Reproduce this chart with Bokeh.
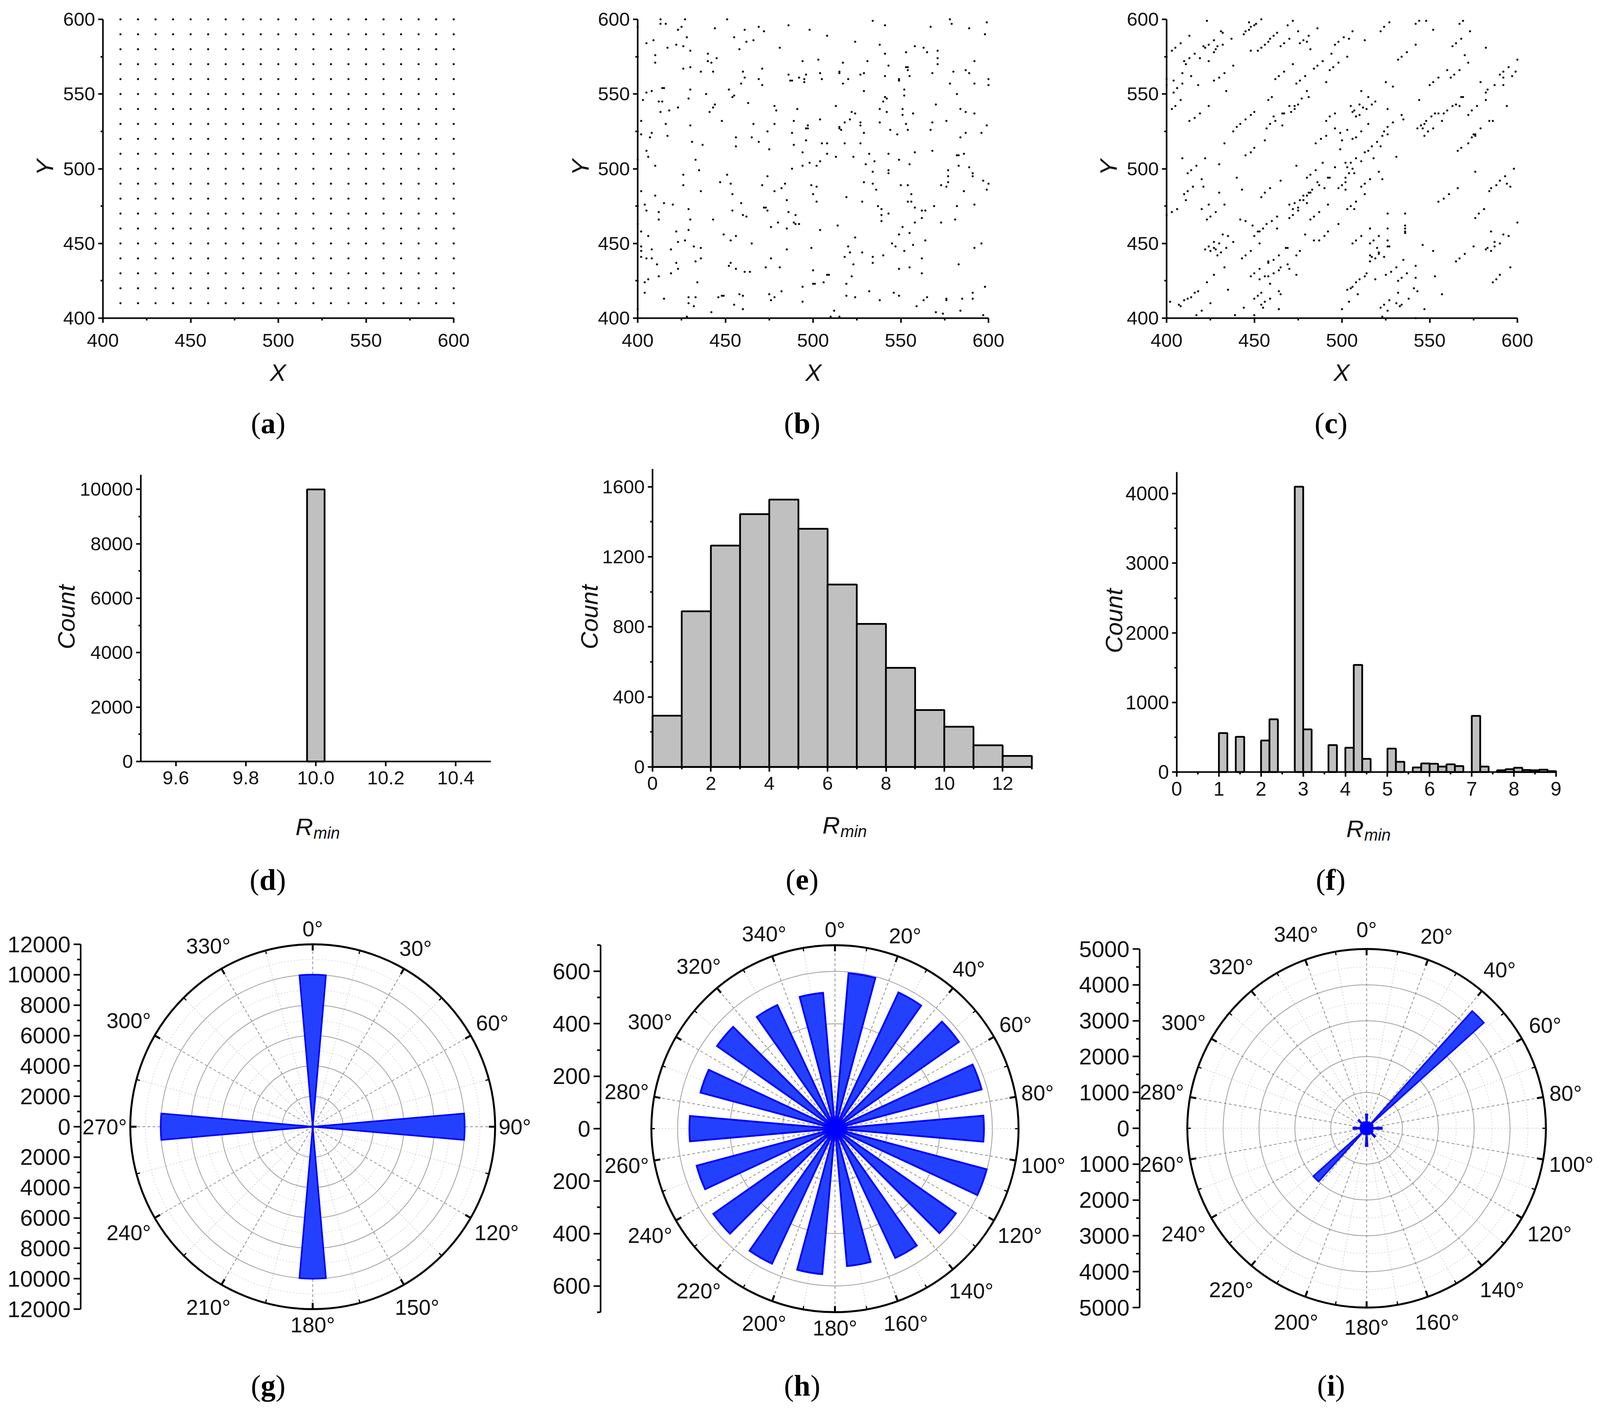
from math import sin, cos, radians

from bokeh.core.properties import value
from bokeh.embed import file_html
from bokeh.layouts import column, row
from bokeh.models import FixedTicker, NumeralTickFormatter, Range1d
from bokeh.plotting import figure
from bokeh.resources import INLINE

# scatter panels
grid_x = [410, 420, 430, 440, 450, 460, 470, 480, 490, 500, 510, 520, 530, 540, 550, 560, 570, 580, 590, 600]
grid_y = [410, 420, 430, 440, 450, 460, 470, 480, 490, 500, 510, 520, 530, 540, 550, 560, 570, 580, 590, 600]

b_points = [
    (413,600),(427,600),(451,600),(534,599),(578,600),(579,597),(599,598),(589,594),(400,595),(413,597),(416,597),
    (425,595),(423,593),(444,594),(461,593),(469,595),(472,592),(486,596),(498,593),(541,596),(567,595),(598,590),
    (508,589),(428,588),(455,588),(462,585),(466,586),(524,585),(405,584),(409,586),(422,583),(426,582),(417,581),
    (481,581),(458,580),(538,583),(558,582),(563,581),(565,578),(571,579),(553,578),(541,577),(430,579),(440,577),
    (410,576),(445,574),(400,575),(571,574),(503,573),(571,570),(531,572),(494,572),(517,571),(410,571),(440,572),
    (442,571),(543,569),(592,572),(430,568),(426,567),(471,567),(554,568),(553,568),(436,565),(443,565),(460,565),
    (554,566),(568,564),(515,565),(515,564),(580,565),(587,566),(589,564),(504,564),(486,563),(496,563),(529,564),
    (527,563),(541,562),(555,562),(461,561),(469,560),(487,559),(488,559),(492,561),(495,560),(495,558),(505,560),
    (520,560),(549,559),(549,560),(600,560),(459,557),(471,556),(517,557),(578,557),(592,557),(600,556),(414,554),
    (415,554),(430,553),(452,553),(408,552),(529,552),(552,553),(582,550),(405,551),(403,546),(439,550),(455,549),
    (454,548),(552,549),(429,547),(541,548),(542,547),(412,545),(414,545),(463,544),(540,545),(570,543),(513,542),
    (444,543),(443,541),(423,541),(418,539),(478,542),(479,539),(491,540),(538,540),(584,540),(551,540),(551,536),
    (441,538),(413,538),(522,538),(524,537),(542,538),(587,538),(557,537),(592,537),(448,532),(521,533),(504,533),
    (538,531),(489,532),(518,531),(402,532),(497,529),(497,527),(478,530),(466,530),(416,530),(527,531),(527,529),
    (568,531),(576,532),(553,530),(515,528),(515,527),(516,526),(430,529),(496,527),(599,529),(400,525),(408,524),
    (402,523),(474,525),(488,524),(529,524),(544,526),(554,526),(567,526),(596,524),(587,524),(584,521),(417,522),
    (407,521),(456,521),(465,521),(548,523),(496,519),(469,518),(431,518),(437,516),(489,516),(505,517),(508,517),
    (518,517),(527,517),(456,515),(475,513),(568,512),(494,511),(532,510),(405,512),(543,510),(558,511),(406,508),
    (433,506),(400,506),(508,510),(513,508),(523,508),(549,506),(498,504),(504,505),(535,505),(583,509),(586,510),
    (582,509),(502,502),(530,503),(555,503),(583,502),(410,502),(435,499),(488,500),(494,502),(589,501),(543,499),
    (577,499),(534,498),(543,497),(591,495),(591,497),(577,495),(426,496),(451,496),(474,495),(597,492),(447,491),
    (453,490),(484,490),(499,489),(502,488),(529,491),(534,490),(550,489),(554,489),(577,491),(573,489),(576,488),
    (600,490),(426,489),(471,489),(482,487),(536,486),(599,486),(402,485),(478,485),(436,485),(500,483),(556,483),
    (586,485),(410,482),(454,483),(519,481),(528,478),(502,478),(485,479),(554,478),(556,478),(415,477),(420,476),
    (459,477),(404,476),(473,474),(472,474),(558,474),(569,475),(582,475),(592,476),(537,475),(400,475),(429,473),
    (405,472),(412,471),(454,472),(474,472),(539,473),(564,472),(562,472),(486,471),(543,470),(460,469),(462,468),
    (490,469),(539,469),(562,467),(443,466),(430,466),(412,466),(539,465),(581,466),(558,464),(573,464),(480,464),
    (489,464),(490,463),(492,463),(400,463),(476,461),(485,460),(514,462),(504,459),(429,459),(551,461),(402,458),
    (422,458),(549,456),(555,457),(449,456),(456,455),(406,455),(524,454),(564,452),(453,452),(427,452),(432,448),
    (436,447),(423,451),(465,450),(545,450),(547,448),(520,448),(557,449),(592,447),(596,450),(402,448),(408,446),
    (419,446),(485,446),(499,447),(521,444),(528,444),(552,445),(402,445),(402,441),(405,440),(408,440),(518,441),
    (534,441),(540,442),(562,440),(436,440),(433,438),(476,440),(411,436),(422,437),(453,437),(452,435),(456,433),
    (473,434),(481,434),(583,436),(523,436),(534,437),(555,434),(549,433),(423,433),(461,431),(464,431),(500,432),
    (419,430),(562,430),(412,428),(522,428),(508,429),(509,429),(406,426),(400,425),(500,423),(501,423),(506,424),
    (519,423),(404,424),(404,417),(494,421),(434,424),(532,418),(546,417),(549,415),(598,421),(591,417),(524,414),
    (519,415),(565,414),(585,413),(591,413),(576,413),(576,412),(429,414),(433,414),(448,415),(446,414),(449,415),
    (458,416),(460,415),(475,416),(476,412),(478,414),(482,418),(415,413),(538,412),(563,412),(494,411),(429,410),
    (432,408),(455,409),(460,406),(559,408),(400,406),(570,404),(574,403),(584,405),(442,404),(512,405),(597,402),
    (428,401),(510,401),(515,401),
]

c_points = [
    (423,599),(444,590),(445,592),(447,593),(448,595),(450,596),(451,597),(454,600),(447,598),(472,599),(469,596),
    (431,592),(432,591),(413,589),(437,587),(475,592),(481,589),(486,594),(478,586),(476,584),(480,585),(482,580),
    (463,591),(461,589),(459,587),(458,585),(456,583),(454,581),(452,579),(448,579),(470,587),(467,584),(465,582),
    (506,592),(501,588),(504,587),(498,585),(496,583),(494,577),(489,572),(486,569),(484,567),(503,575),(498,571),
    (495,568),(493,566),(491,558),(522,592),(524,595),(527,598),(542,597),(544,599),(548,599),(552,593),(542,583),
    (537,578),(534,575),(532,573),(513,586),(567,597),(569,599),(573,592),(568,587),(565,584),(563,582),(582,581),
    (570,576),(572,571),(600,573),(595,568),(590,563),(592,565),(592,561),(599,565),(597,562),(592,556),(587,556),
    (583,553),(582,551),(582,546),(579,558),(594,542),(560,566),(564,563),(567,566),(562,561),(555,561),(552,558),
    (550,556),(525,558),(529,555),(511,552),(515,548),(519,545),(517,543),(514,540),(512,541),(505,542),(510,543),
    (507,539),(506,538),(508,535),(510,536),(515,530),(526,540),(529,531),(526,528),(524,525),(523,522),(526,523),
    (496,537),(493,535),(491,532),(496,527),(499,524),(503,526),(506,520),(508,521),(511,525),(500,519),(491,522),
    (488,520),(485,517),(499,513),(520,518),(517,515),(515,512),(513,511),(522,515),(531,508),(534,536),(535,533),
    (544,546),(568,548),(563,542),(565,543),(569,548),(567,542),(560,539),(558,537),(555,537),(553,537),(551,535),
    (548,532),(547,530),(545,529),(543,527),(546,527),(549,525),(547,522),(552,527),(557,532),(577,542),(574,539),
    (572,536),(579,527),(576,523),(575,523),(576,522),(574,521),(584,532),(586,532),(572,517),(568,514),(566,512),
    (576,498),(598,500),(593,495),(590,492),(588,489),(585,487),(584,485),(596,488),(594,490),(566,487),(561,483),
    (558,480),(555,478),(581,473),(578,470),(576,467),(600,464),(585,458),(587,451),(590,450),(592,456),(595,455),
    (587,448),(585,445),(582,446),(583,447),(575,448),(570,443),(567,440),(565,438),(596,434),(590,429),(588,426),
    (586,424),(546,449),(552,445),(553,428),(557,416),(536,470),(536,462),(536,460),(536,458),(536,457),(526,470),
    (526,460),(526,452),(526,448),(527,448),(516,460),(516,450),(521,455),(518,452),(520,447),(521,443),(521,444),
    (517,441),(519,440),(516,438),(516,442),(524,441),(506,450),(508,452),(511,455),(498,463),(492,458),(490,455),
    (487,452),(484,452),(479,456),(535,439),(542,435),(537,430),(534,427),(532,425),(542,427),(531,434),(528,431),
    (525,429),(514,430),(513,428),(519,426),(510,426),(508,424),(506,421),(505,420),(503,419),(509,416),(504,411),
    (500,406),(532,417),(541,420),(543,418),(538,413),(534,409),(533,408),(531,410),(527,412),(524,409),(522,407),
    (526,405),(523,401),(547,406),(542,400),(450,402),(450,400),(439,402),(417,402),(420,405),(425,410),(435,419),
    (444,407),(402,411),(407,409),(408,408),(410,412),(412,413),(414,414),(416,417),(418,418),(423,424),(427,429),
    (433,434),(448,428),(450,430),(453,433),(443,440),(445,442),(448,445),(453,426),(456,428),(459,423),(458,438),
    (461,439),(458,437),(464,442),(468,447),(469,447),(474,442),(476,445),(465,434),(464,432),(461,430),(458,428),
    (469,436),(470,433),(474,429),(464,418),(465,416),(464,406),(459,413),(456,411),(454,417),(452,415),(450,413),
    (454,409),(455,407),(424,476),(420,473),(428,471),(425,468),(423,466),(430,484),(433,476),(409,507),(422,507),
    (430,503),(417,502),(414,499),(412,497),(420,493),(421,488),(415,488),(412,485),(410,483),(411,479),(406,473),
    (403,471),(400,469),(440,494),(443,486),(442,466),(445,465),(449,462),(438,451),(432,456),(435,455),(422,446),
    (424,448),(425,445),(427,451),(427,447),(430,450),(428,446),(429,442),(434,447),(431,444),(450,455),(452,458),
    (453,458),(455,460),(457,463),(460,465),(463,468),(463,460),(453,450),(433,517),(454,481),(456,484),(459,487),
    (465,492),(450,514),(448,511),(445,509),(456,519),(457,527),(459,530),(462,532),(461,535),(466,537),(467,537),
    (466,529),(458,546),(460,548),(450,538),(448,536),(445,533),(442,530),(440,528),(438,525),(462,560),(464,562),
    (467,565),(472,570),(474,557),(476,559),(479,562),(480,552),(481,548),(477,547),(473,542),(475,543),(473,540),
    (471,538),(470,542),(434,552),(424,542),(419,537),(416,534),(413,532),(403,540),(405,542),(408,546),(404,551),
    (406,554),(409,557),(400,560),(400,556),(404,559),(409,564),(414,562),(418,556),(403,579),(405,581),(408,584),
    (410,572),(411,570),(413,574),(416,577),(419,574),(424,572),(421,582),(422,581),(424,583),(427,586),(432,583),
    (427,578),(428,580),(429,582),(438,569),(433,564),(430,561),(427,559),(400,575),(474,502),(485,499),(482,496),
    (480,494),(489,504),(492,494),(493,494),(496,501),(486,491),(487,489),(490,487),(483,486),(482,484),(481,484),
    (480,482),(478,482),(476,479),(473,477),(470,476),(472,473),(478,479),(480,477),(475,474),(492,476),(487,471),
    (484,468),(482,466),(475,472),(472,469),(470,467),(502,504),(505,504),(503,501),(508,507),(504,497),(506,500),
    (507,497),(502,494),(502,491),(500,489),(498,487),(502,486),(511,488),(513,490),(516,493),(513,483),(518,507),
    (511,505),(521,498),(523,493),(503,473),(505,475),(507,473),(508,478),
]

xy_ticks = [400, 450, 500, 550, 600]
xy_minor_ticks = [425, 475, 525, 575]

# histograms
d_left = [9.975]
d_right = [10.025]
d_count = [10000]
d_xticks = [9.6, 9.8, 10.0, 10.2, 10.4]
d_yticks = [0, 2000, 4000, 6000, 8000, 10000]
d_yminor = [1000, 3000, 5000, 7000, 9000]

e_left = [0, 1, 2, 3, 4, 5, 6, 7, 8, 9, 10, 11, 12]
e_right = [1, 2, 3, 4, 5, 6, 7, 8, 9, 10, 11, 12, 13]
e_count = [293, 889, 1264, 1444, 1527, 1360, 1042, 817, 566, 325, 230, 124, 63]
e_xticks = [0, 2, 4, 6, 8, 10, 12]
e_xminor = [1, 3, 5, 7, 9, 11, 13]
e_yticks = [0, 400, 800, 1200, 1600]
e_yminor = [200, 600, 1000, 1400]

f_left = [1.0, 1.4, 2.0, 2.2, 2.8, 3.0, 3.6, 4.0, 4.2, 4.4, 5.0, 5.2, 5.6, 5.8, 6.0, 6.2, 6.4, 6.6, 7.0, 7.2, 7.6, 7.8, 8.0, 8.2, 8.4, 8.6, 8.8]
f_right = [1.2, 1.6, 2.2, 2.4, 3.0, 3.2, 3.8, 4.2, 4.4, 4.6, 5.2, 5.4, 5.8, 6.0, 6.2, 6.4, 6.6, 6.8, 7.2, 7.4, 7.8, 8.0, 8.2, 8.4, 8.6, 8.8, 9.0]
f_count = [560, 506, 453, 757, 4099, 613, 387, 350, 1539, 189, 337, 148, 66, 123, 119, 78, 111, 86, 807, 78, 25, 41, 62, 29, 25, 33, 12]
f_xticks = [0, 1, 2, 3, 4, 5, 6, 7, 8, 9]
f_xminor = [0.5, 1.5, 2.5, 3.5, 4.5, 5.5, 6.5, 7.5, 8.5]
f_yticks = [0, 1000, 2000, 3000, 4000]
f_yminor = [500, 1500, 2500, 3500]

# rose panels
g_angles = [0, 90, 180, 270]
g_counts = [10000, 10000, 10000, 10000]
g_major_angles = [0, 30, 60, 90, 120, 150, 180, 210, 240, 270, 300, 330]
g_minor_angles = [15, 45, 75, 105, 135, 165, 195, 225, 255, 285, 315, 345]
g_major_r = [2000, 4000, 6000, 8000, 10000]
g_minor_r = [1000, 3000, 5000, 7000, 9000, 11000]
g_ticks = [-12000, -10000, -8000, -6000, -4000, -2000, 0, 2000, 4000, 6000, 8000, 10000, 12000]
g_tick_minor = [-11000, -9000, -7000, -5000, -3000, -1000, 1000, 3000, 5000, 7000, 9000, 11000]

h_angles = [10, 30, 50, 70, 90, 110, 130, 150, 170, 190, 210, 230, 250, 270, 290, 310, 330, 350]
h_counts = [595, 573, 577, 579, 568, 599, 563, 544, 526, 557, 568, 566, 546, 555, 531, 549, 520, 520]
rose_major_angles = [0, 20, 40, 60, 80, 100, 120, 140, 160, 180, 200, 220, 240, 260, 280, 300, 320, 340]
rose_minor_angles = [10, 30, 50, 70, 90, 110, 130, 150, 170, 190, 210, 230, 250, 270, 290, 310, 330, 350]
h_major_r = [200, 400, 600]
h_minor_r = [100, 300, 500]
h_ticks = [-600, -400, -200, 0, 200, 400, 600]
h_tick_minor = [-700, -500, -300, -100, 100, 300, 500, 700]

i_angles = [0, 15, 30, 45, 60, 75, 90, 105, 120, 135, 150, 165, 180, 195, 210, 225, 240, 255, 270, 285, 300, 315, 330, 345]
i_counts = [390, 170, 180, 4400, 190, 170, 425, 170, 190, 325, 180, 170, 500, 170, 180, 2000, 180, 170, 370, 170, 180, 310, 190, 170]
i_major_r = [1000, 2000, 3000, 4000]
i_minor_r = [500, 1500, 2500, 3500, 4500]
i_ticks = [-5000, -4000, -3000, -2000, -1000, 0, 1000, 2000, 3000, 4000, 5000]
i_tick_minor = [-4500, -3500, -2500, -1500, -500, 500, 1500, 2500, 3500, 4500]

SANS = "Liberation Sans"
SERIF = "Liberation Serif"
BOLD_W = {"a": 0.5, "b": 0.556, "c": 0.444, "d": 0.556, "e": 0.444, "f": 0.333, "g": 0.5, "h": 0.556, "i": 0.278}

# the capture came back cut at 4096 wide, so page x positions are squeezed to fit
KX = 0.94


def sx(x):
    return round(x * KX)


def make_panel(cell, frame, xr, yr):
    # cell and frame are (left, right, top, bottom) in page pixels
    # the plot area fills the whole cell so tick labels and titles are not clipped, the axes are pinned at xr[0], yr[0]
    cl, cr, ct, cb = cell
    fl, fr, ft, fb = frame
    x_per_px = (xr[1] - xr[0]) / (fr - fl)
    y_per_px = (yr[1] - yr[0]) / (fb - ft)
    p = figure(width=cr - cl, height=cb - ct,
               x_range=Range1d(xr[0] - (fl - cl) * x_per_px, xr[1] + (cr - fr) * x_per_px),
               y_range=Range1d(yr[0] - (cb - fb) * y_per_px, yr[1] + (ft - ct) * y_per_px),
               output_backend="svg", toolbar_location=None, frame_align=False,
               min_border_left=0, min_border_right=0, min_border_top=0, min_border_bottom=0)
    p.outline_line_color = None
    p.grid.visible = False
    p.background_fill_color = None
    p.border_fill_color = None
    p.xaxis[0].fixed_location = yr[0]
    p.xaxis[0].bounds = xr
    p.yaxis[0].fixed_location = xr[0]
    p.yaxis[0].bounds = yr
    return p, cell


def style_axis(ax, ticks, minor, size, label_gap=8):
    ax.ticker = FixedTicker(ticks=ticks, minor_ticks=minor)
    ax.axis_line_width = 4
    ax.axis_line_color = "black"
    ax.major_tick_line_width = 4
    ax.minor_tick_line_width = 4
    ax.major_tick_line_color = "black"
    ax.minor_tick_line_color = "black"
    ax.major_tick_in = 0
    ax.major_tick_out = 12
    ax.minor_tick_in = 0
    ax.minor_tick_out = 6
    ax.major_label_standoff = label_gap
    ax.major_label_text_font = SANS
    ax.major_label_text_font_size = size
    ax.major_label_text_color = "#111111"


def page_to_data(p, cell, px, py):
    cl, cr, ct, cb = cell
    x = p.x_range.start + (px - cl) / (cr - cl) * (p.x_range.end - p.x_range.start)
    y = p.y_range.start + (cb - py) / (cb - ct) * (p.y_range.end - p.y_range.start)
    return x, y


def title(p, cell, px, py, txt, rotated=False):
    x, y = page_to_data(p, cell, px, py)
    p.text([x], [y], text=[txt], text_font=value(SANS), text_font_style="italic", text_font_size="62px",
           text_align="center", text_baseline="middle", text_color="#111111", angle=90 if rotated else 0,
           angle_units="deg")


def tag(p, cell, cx, cy, letter):
    # "(a)" under a panel, the letter in bold
    fs = 76
    lw = BOLD_W[letter] * fs
    pw = 0.333 * fs
    x0 = cx - (2 * pw + lw) / 2
    for txt, dx, style in [("(", 0, "normal"), (letter, pw, "bold"), (")", pw + lw, "normal")]:
        x, y = page_to_data(p, cell, x0 + dx, cy)
        p.text([x], [y], text=[txt], text_font=value(SERIF), text_font_style=style, text_font_size=f"{fs}px",
               text_baseline="middle", text_align="left", text_color="black")


def r_min(p, cell, x0, base):
    x, y = page_to_data(p, cell, x0, base)
    p.text([x], [y], text=["R"], text_font=value(SANS), text_font_style="italic", text_font_size="62px",
           text_baseline="alphabetic", text_color="#111111")
    x, y = page_to_data(p, cell, x0 + 46, base + 16)
    p.text([x], [y], text=["min"], text_font=value(SANS), text_font_style="italic", text_font_size="42px",
           text_baseline="alphabetic", text_color="#111111")


def scatter_panel(cell, frame, xs, ys, letter, tag_x, y_title_x, x_title_x):
    p, ext = make_panel(cell, frame, (400, 600), (400, 600))
    p.scatter(xs, ys, size=4.5, color="black", marker="circle")
    style_axis(p.xaxis[0], xy_ticks, xy_minor_ticks, "49px", 28)
    style_axis(p.yaxis[0], xy_ticks, xy_minor_ticks, "49px")
    title(p, ext, x_title_x, 961, "X")
    title(p, ext, y_title_x, 436, "Y", True)
    tag(p, ext, tag_x, 1090, letter)
    return p


def hist_panel(cell, frame, left, right, count, xr, ytop, xticks, xminor, yticks, yminor, letter, tag_x, rx, rbase, fs,
               count_x, count_y, xfmt=None):
    p, ext = make_panel(cell, frame, xr, (0, ytop))
    p.quad(left=left, right=right, top=count, bottom=0, fill_color="#c0c0c0", line_color="black", line_width=4.5)
    style_axis(p.xaxis[0], xticks, xminor, fs, 13)
    style_axis(p.yaxis[0], yticks, yminor, fs)
    if xfmt:
        p.xaxis[0].formatter = NumeralTickFormatter(format=xfmt)
    title(p, ext, count_x, count_y, "Count", True)
    r_min(p, ext, rx, rbase)
    tag(p, ext, tag_x, 2259, letter)
    return p


def polar_panel(cell, axis_x, cx, cy, r_px, r_max, angles, counts, bar_w, line_w, major_a, minor_a, major_r, minor_r,
                ticks, tick_minor, letter, tag_x, top_gap):
    scale = r_px / r_max
    frame = (axis_x, cell[1], cy - r_px, cy + r_px)
    xr = ((frame[0] - cx) / scale, (frame[1] - cx) / scale)
    yr = (-r_max, r_max)
    p, ext = make_panel(cell, frame, xr, yr)

    # faint rings and rays first, the bars sit on top
    zeros = [0] * len(minor_r)
    rr = p.circle(zeros, zeros, radius=minor_r, fill_color=None, line_color="#d8d8d8", line_width=2)
    rr.glyph.line_dash = [3, 5]
    rr = p.segment(0, 0, [r_max * sin(radians(a)) for a in minor_a], [r_max * cos(radians(a)) for a in minor_a],
                   line_color="#d0d0d0", line_width=2)
    rr.glyph.line_dash = [3, 5]
    zeros = [0] * len(major_r)
    p.circle(zeros, zeros, radius=major_r, fill_color=None, line_color="#a0a0a0", line_width=2)
    rr = p.segment(0, 0, [r_max * sin(radians(a)) for a in major_a], [r_max * cos(radians(a)) for a in major_a],
                   line_color="#8c8c8c", line_width=2)
    rr.glyph.line_dash = [7, 6]

    zeros = [0] * len(angles)
    p.wedge(zeros, zeros, radius=counts,
            start_angle=[90 - a - bar_w / 2 for a in angles], end_angle=[90 - a + bar_w / 2 for a in angles],
            start_angle_units="deg", end_angle_units="deg",
            fill_color="#2440ff", line_color="#0000ff", line_width=line_w, line_join="miter")

    p.circle([0], [0], radius=[r_max], fill_color=None, line_color="black", line_width=5)
    major_in = r_max - 16 / scale
    minor_in = r_max - 9 / scale
    p.segment([major_in * sin(radians(a)) for a in major_a], [major_in * cos(radians(a)) for a in major_a],
              [r_max * sin(radians(a)) for a in major_a], [r_max * cos(radians(a)) for a in major_a],
              line_color="black", line_width=5)
    p.segment([minor_in * sin(radians(a)) for a in minor_a], [minor_in * cos(radians(a)) for a in minor_a],
              [r_max * sin(radians(a)) for a in minor_a], [r_max * cos(radians(a)) for a in minor_a],
              line_color="black", line_width=3)

    texts = [f"{a}°" for a in major_a]
    lx, ly = [], []
    for a, t in zip(major_a, texts):
        half_w = ((len(t) - 1) * 30 + 21) / 2
        gap = top_gap * abs(cos(radians(a))) + (half_w + 10) * abs(sin(radians(a)))
        lx.append((r_max + gap / scale) * sin(radians(a)))
        ly.append((r_max + gap / scale) * cos(radians(a)))
    p.text(lx, ly, text=texts, text_font=value(SANS), text_font_size="55px", text_align="center",
           text_baseline="middle", text_color="#111111")

    ax = p.yaxis[0]
    style_axis(ax, ticks, tick_minor, "58px")
    ax.major_tick_out = 18
    ax.minor_tick_out = 9
    ax.major_label_overrides = {t: str(abs(t)) for t in ticks}
    p.xaxis.visible = False
    tag(p, ext, tag_x, 3554, letter)
    return p


a_x = [x for x in grid_x for y in grid_y]
a_y = [y for x in grid_x for y in grid_y]
b_x = [pt[0] for pt in b_points]
b_y = [pt[1] for pt in b_points]
c_x = [pt[0] for pt in c_points]
c_y = [pt[1] for pt in c_points]

pa = scatter_panel((8, sx(1500), 8, 1180), (sx(288), sx(1244), 57, 822), a_x, a_y, "a", sx(738), sx(130), sx(765))
pb = scatter_panel((sx(1500), sx(2950), 8, 1180), (sx(1745), sx(2700), 57, 822), b_x, b_y, "b", sx(2193), sx(1588), sx(2223))
pc = scatter_panel((sx(2950), 4090, 8, 1180), (sx(3185), sx(4140), 57, 822), c_x, c_y, "c", sx(3633), sx(3027), sx(3662))

pd = hist_panel((8, sx(1500), 1180, 2300), (sx(392), sx(1345), 1223, 1957), d_left, d_right, d_count, (9.5, 10.5), 10538,
                d_xticks, [], d_yticks, d_yminor, "d", sx(737), sx(813), 2124, "49px", sx(188), 1587, "0.0")
pe = hist_panel((sx(1500), sx(2950), 1180, 2300), (sx(1785), sx(2818), 1208, 1971), e_left, e_right, e_count, (0, 13), 1702,
                e_xticks, e_xminor, e_yticks, e_yminor, "e", sx(2193), sx(2248), 2120, "49px", sx(1613), 1587)
pf = hist_panel((sx(2950), 4090, 1180, 2300), (sx(3213), sx(4246), 1216, 1984), f_left, f_right, f_count, (0, 9), 4310,
                f_xticks, f_xminor, f_yticks, f_yminor, "f", sx(3632), sx(3674), 2129, "50px", sx(3041), 1597)

pg = polar_panel((8, sx(1500), 2300, 3612), sx(228), sx(860), 2892, 467, 12000, g_angles, g_counts, 10, 4,
                 g_major_angles, g_minor_angles, g_major_r, g_minor_r, g_ticks, g_tick_minor, "g", sx(738), 40)
ph = polar_panel((sx(1500), 2762, 2300, 3612), sx(1644), sx(2282), 2897, 470, 700, h_angles, h_counts, 10, 4.5,
                 rose_major_angles, rose_minor_angles, h_major_r, h_minor_r, h_ticks, h_tick_minor, "h", sx(2193), 40)
pi_ = polar_panel((2762, 4090, 2300, 3612), sx(3112), sx(3730), 2896, 459, 5000, i_angles, i_counts, 6, 4,
                  rose_major_angles, rose_minor_angles, i_major_r, i_minor_r, i_ticks, i_tick_minor, "i", sx(3633), 50)

layout = column(row(pa, pb, pc), row(pd, pe, pf), row(pg, ph, pi_))

open("out.html", "w").write(file_html(layout, INLINE))
